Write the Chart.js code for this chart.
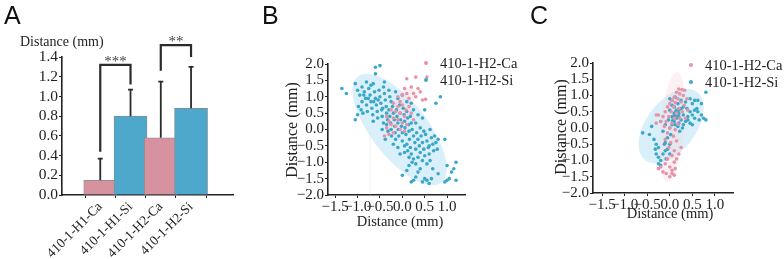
<!DOCTYPE html>
<html>
<head>
<meta charset="utf-8">
<script src="https://cdn.jsdelivr.net/npm/chart.js@4"></script>
<style>
  body { margin: 0; background: #fff; width: 784px; height: 259px; position: relative; overflow: hidden; }
  .panel { position: absolute; top: 0; height: 259px; }
  .letter { position: absolute; top: 1px; font: 25px "Liberation Sans", sans-serif; color: #111; }
</style>
</head>
<body>
<div class="panel" style="left:0;width:250px"><canvas id="chartA"></canvas></div>
<div class="panel" style="left:260px;width:270px"><canvas id="chartB"></canvas></div>
<div class="panel" style="left:530px;width:254px"><canvas id="chartC"></canvas></div>
<div class="letter" style="left:4px">A</div>
<div class="letter" style="left:262px">B</div>
<div class="letter" style="left:530px">C</div>
<script>
// ---- panel A data ----
const catLabels = ["410-1-H1-Ca", "410-1-H1-Si", "410-1-H2-Ca", "410-1-H2-Si"];
const meanDist = [0.15, 0.80, 0.58, 0.88];
const sdDist = [0.22, 0.27, 0.57, 0.42];
const sigPairs = [[0, 1], [2, 3]];
const sigMarks = ["***", "**"];
const sigTop = [1.32, 1.52];
const sigLegs = [[0.44, 1.12], [1.26, 1.40]];

// ---- panel B data (x, y in mm) ----
const seriesNames = ["410-1-H2-Ca", "410-1-H2-Si"];
const bCa = [[0.1,1.55],[0.3,1.6],[0.55,1.6],[0.05,1.25],[0.2,1.3],[0.35,1.25],[0.45,0.9],[0.52,0.92],[0.3,1.0],[0.0,1.05],
  [-0.05,0.85],[0.15,0.95],[-0.1,0.7],[0.0,0.75],[0.08,0.6],[-0.15,0.55],[-0.05,0.5],[0.05,0.4],[-0.2,0.35],[-0.1,0.3],
  [0.0,0.2],[-0.25,0.15],[-0.15,0.1],[-0.05,0.0],[-0.3,0.25],[-0.35,0.05],[-0.2,-0.1],[-0.3,-0.15],[-0.4,-0.2],[0.1,0.15],
  [0.2,0.5],[0.15,0.7],[0.25,0.3],[-0.25,0.6],[-0.2,0.8],[-0.35,0.4],[0.05,-0.05],[0.25,1.1],[0.4,1.15],[-0.1,1.0],[0.1,1.1]];
const bSi = [[-1.35,1.25],[-1.25,1.1],[-0.6,1.9],[-0.5,1.95],[-0.6,1.7],[-1.05,1.4],[-0.8,1.45],[-0.65,1.4],[-0.4,1.45],[-1.05,0.3],[-1.0,0.45],
  [-1.0,1.2],[-0.95,1.05],[-0.9,0.85],[-0.98,0.7],[-0.92,0.6],[-0.85,1.15],[-0.82,0.95],[-0.8,0.75],[-0.78,0.55],[-0.75,1.25],
  [-0.72,1.05],[-0.7,0.85],[-0.68,0.65],[-0.66,0.45],[-0.62,1.15],[-0.6,0.95],[-0.58,0.75],[-0.56,0.55],[-0.55,0.35],[-0.52,1.2],
  [-0.5,1.0],[-0.48,0.8],[-0.46,0.6],[-0.45,0.4],[-0.42,1.3],[-0.4,1.1],[-0.38,0.9],[-0.36,0.7],[-0.35,0.5],[-0.33,0.3],
  [-0.9,1.3],[-0.88,0.5],[-0.7,1.35],[-0.65,0.25],[-0.3,1.2],[-0.28,1.0],[-0.25,0.85],[-0.86,1.05],[-0.76,0.95],[-0.64,0.85],
  [-0.54,0.9],[-0.44,0.65],[-0.35,0.15],[-0.32,-0.05],[-0.3,0.6],[-0.28,0.4],[-0.26,0.2],[-0.25,0.0],[-0.24,-0.2],[-0.22,0.7],
  [-0.2,0.5],[-0.18,0.3],[-0.17,0.1],[-0.16,-0.1],[-0.15,-0.3],[-0.13,0.6],[-0.12,0.4],[-0.1,0.2],[-0.09,0.0],[-0.08,-0.2],
  [-0.06,0.75],[-0.05,0.5],[-0.04,0.3],[-0.02,0.1],[0.0,-0.1],[0.0,-0.35],[0.02,0.65],[0.04,0.45],[0.05,0.25],[0.06,0.05],
  [0.08,-0.15],[0.1,0.55],[0.12,0.35],[0.14,0.15],[0.15,-0.05],[0.16,-0.3],[0.18,0.4],[0.2,0.2],[0.22,0.0],[-0.38,-0.3],
  [-0.45,0.0],[-0.42,0.2],[-0.2,-0.45],[-0.1,-0.55],[0.05,-0.5],[0.25,-0.2],[0.28,-0.4],[0.3,-0.6],[0.32,-0.1],[0.35,-0.3],
  [0.38,-0.5],[0.4,-0.7],[0.42,-0.2],[0.45,-0.4],[0.48,-0.6],[0.5,-0.8],[0.52,-0.15],[0.55,-0.35],[0.58,-0.55],[0.6,-0.75],
  [0.62,-0.95],[0.65,-0.25],[0.68,-0.45],[0.7,-0.65],[0.72,-0.2],[0.1,-0.45],[0.12,-0.65],[0.15,-0.85],[0.18,-0.55],[0.2,-0.75],
  [0.22,-1.0],[0.25,-0.9],[0.3,-1.05],[0.05,-0.7],[-0.05,-0.75],[0.35,-0.85],[0.45,-0.95],[0.55,-1.05],[0.75,-0.4],[0.78,-0.6],
  [0.6,-0.5],[0.4,0.05],[0.3,0.2],[0.48,-0.05],[0.62,0.0],[0.8,-0.3],[0.95,-0.3],[0.85,1.0],[0.75,0.8],[0.45,0.35],
  [0.5,0.6],[0.35,0.45],[0.25,0.6],[-0.1,0.95],[0.0,1.05],[-0.15,1.15],[0.1,0.85],[0.2,0.8],
  [0.0,-1.4],[0.1,-1.25],[0.2,-1.6],[0.25,-1.55],[0.3,-1.45],[0.35,-1.3],[0.45,-1.6],[0.5,-1.5],[0.55,-1.55],[0.6,-1.65],
  [0.65,-1.5],[0.4,-1.2],[0.15,-1.1],[0.68,-1.2],[0.8,-1.35],[1.0,-1.1],[1.05,-1.5],[1.1,-1.3],[1.15,-1.2],[1.2,-1.0],
  [1.2,-1.55],[1.0,-1.55],[0.95,-1.6]];

// ---- panel C data ----
const cCa = [[0.2,1.2],[0.27,1.18],[0.33,1.16],[0.15,1.1],[0.22,1.05],[0.1,0.95],[0.3,1.0],[0.05,0.85],[0.18,0.9],[0.38,0.9],
  [0.0,0.75],[0.12,0.78],[0.25,0.8],[-0.05,0.65],[0.08,0.65],[0.2,0.6],[0.32,0.7],[-0.1,0.5],[0.03,0.5],[0.15,0.45],
  [0.28,0.5],[-0.15,0.35],[-0.02,0.35],[0.1,0.3],[0.22,0.3],[-0.2,0.2],[-0.08,0.2],[0.05,0.15],[0.18,0.12],[-0.25,0.4],
  [-0.3,0.15],[-0.12,0.05],[0.0,0.0],[0.12,-0.05],[-0.05,-0.15],[0.08,-0.25],[-0.1,-0.35],[0.02,-0.45],[0.15,-0.4],[-0.02,-0.6],
  [0.1,-0.7],[0.05,-0.85],[-0.05,-0.95],[0.15,-0.95],[0.1,-1.05],[-0.1,-1.1],[-0.2,-1.2],[-0.25,-1.25],[-0.15,-1.35],[0.0,-1.2],
  [0.05,-1.3],[0.12,-1.25],[0.1,-1.45],[0.0,-1.5],[0.05,-1.4],[-0.08,-1.4],[0.2,-0.8],[0.25,-0.6],[-0.3,0.4],[0.4,0.55],[0.35,0.3]];
const cSi = [[-0.6,-0.15],[-0.45,-0.2],[-0.4,0.05],[-0.35,-0.35],[-0.3,-0.5],[-0.32,-0.65],[-0.25,-0.6],[-0.3,-0.8],[-0.25,-0.9],[-0.2,-1.0],
  [-0.25,-1.1],[-0.2,-1.15],[-0.15,-0.8],[-0.1,-0.7],[-0.12,-0.5],[-0.1,-0.45],[-0.05,-0.3],[0.0,-0.5],[0.02,-0.2],[-0.15,-0.1],
  [-0.2,0.2],[-0.1,0.1],[0.0,0.0],[-0.05,-0.65],[0.0,-0.8],[-0.08,-0.95],[0.05,0.1],[0.1,0.2],[0.15,0.3],[0.2,0.15],
  [0.25,0.25],[0.3,0.4],[0.05,0.35],[0.1,0.45],[0.15,0.55],[0.2,0.45],[0.25,0.6],[0.0,0.55],[0.05,0.7],[0.1,0.65],
  [0.18,0.75],[0.0,0.9],[0.05,0.85],[0.12,0.95],[0.08,0.3],[0.12,0.1],[0.18,0.05],[0.22,-0.1],[0.3,0.1],[0.35,0.2],
  [0.4,0.35],[0.45,0.5],[0.5,0.4],[0.55,0.3],[0.6,0.6],[0.62,0.5],[0.7,0.4],[0.75,0.3],[0.8,0.25],[0.8,1.1],
  [0.7,0.75],[0.62,0.85],[0.5,0.75],[0.5,0.1],[0.4,0.25],[0.3,0.65],[0.35,0.8],[0.45,0.9],[0.55,0.55],[0.28,0.0],
  [0.45,0.15],[0.38,0.6],[0.25,0.85],[0.2,0.35],[0.15,0.4],[0.1,0.38],[-0.03,0.25],[0.06,0.22],[0.13,0.5],[0.2,0.55],
  [0.55,0.85],[0.65,0.25]];

// confidence ellipses: centre, major half-axis vector, minor half-axis vector (data units)
const ellB = [
  { c: [-0.06, 0.0], u: [0.93, -1.62], v: [0.49, 0.53], s: 1 },
  { c: [-0.05, 0.55], u: [0.25, 0.75], v: [0.22, -0.08], s: 0 }
];
const ellC = [
  { c: [0.03, 0.06], u: [0.57, 1.05], v: [0.44, -0.46], s: 1 },
  { c: [0.056, 0.03], u: [0.11, 1.69], v: [0.26, -0.03], s: 0 }
];

const PINK = "#d6929f", BLUE = "#4da8cc";
const DOT_PINK = "#e693a9", DOT_BLUE = "#3aa8c8";
const ELL_FILL = ["rgba(248,208,218,0.32)", "rgba(192,228,246,0.6)"];
const SERIF = '"Liberation Serif", "Times New Roman", serif';
const INK = "#222";

Chart.defaults.font.family = SERIF;
Chart.defaults.color = INK;

function fmt(v) {
  if (Math.abs(v) < 1e-9) v = 0;
  return (v < 0 ? "\u2212" : "") + Math.abs(v).toFixed(1);
}

// ---------- A: bar chart ----------
const barDeco = {
  id: "barDeco",
  afterDatasetsDraw(chart) {
    const { ctx, scales: { x, y } } = chart;
    ctx.save();
    ctx.strokeStyle = "#2b2b2b";
    ctx.lineWidth = 1.8;
    meanDist.forEach((m, i) => {
      const px = x.getPixelForValue(i + 1);
      const top = y.getPixelForValue(m + sdDist[i]);
      ctx.beginPath();
      ctx.moveTo(px, y.getPixelForValue(m));
      ctx.lineTo(px, top);
      ctx.moveTo(px - 2.5, top);
      ctx.lineTo(px + 2.5, top);
      ctx.stroke();
    });
    ctx.lineWidth = 2.2;
    ctx.fillStyle = "#444";
    ctx.font = "15px " + SERIF;
    ctx.textAlign = "center";
    sigPairs.forEach((p, k) => {
      const x1 = x.getPixelForValue(p[0] + 1), x2 = x.getPixelForValue(p[1] + 1);
      const yt = y.getPixelForValue(sigTop[k]);
      ctx.beginPath();
      ctx.moveTo(x1, y.getPixelForValue(sigLegs[k][0]));
      ctx.lineTo(x1, yt);
      ctx.lineTo(x2, yt);
      ctx.lineTo(x2, y.getPixelForValue(sigLegs[k][1]));
      ctx.stroke();
      ctx.fillText(sigMarks[k], (x1 + x2) / 2, yt + 1);
    });
    ctx.fillStyle = INK;
    ctx.textAlign = "left";
    ctx.font = "14px " + SERIF;
    ctx.fillText("Distance (mm)", 20, 46);
    ctx.restore();
  }
};

new Chart(document.getElementById("chartA"), {
  type: "bar",
  data: {
    datasets: [{
      data: meanDist.map((v, i) => ({ x: i + 1, y: v })),
      backgroundColor: [PINK, BLUE, PINK, BLUE],
      borderColor: "#8a8a8a",
      borderWidth: 0.8,
      barThickness: 33
    }]
  },
  options: {
    responsive: true,
    maintainAspectRatio: false,
    animation: false,
    layout: { padding: { top: 57, right: 17, left: 0, bottom: 0 } },
    plugins: { legend: { display: false }, tooltip: { enabled: false } },
    scales: {
      x: {
        type: "linear",
        min: 0.442, max: 4.68,
        grid: { drawOnChartArea: false, tickLength: 3, color: INK },
        border: { color: INK, width: 1.6 },
        ticks: {
          stepSize: 1, includeBounds: false, autoSkip: false,
          minRotation: 45, maxRotation: 45, padding: 1,
          font: { size: 13.5 },
          callback: v => catLabels[v - 1] || ""
        },
        afterFit(s) { s.height = 64; s.paddingLeft = 0; s.paddingRight = 0; }
      },
      y: {
        min: 0, max: 1.4,
        grid: { drawOnChartArea: false, tickLength: 3, color: INK },
        border: { color: INK, width: 1.6 },
        ticks: { stepSize: 0.2, autoSkip: false, padding: 1, font: { size: 15.5 }, callback: v => fmt(v) },
        afterFit(s) { s.width = 62; s.paddingTop = 0; s.paddingBottom = 0; }
      }
    }
  },
  plugins: [barDeco]
});

// ---------- B, C: scatter charts ----------
const scatterDeco = {
  id: "scatterDeco",
  beforeDatasetsDraw(chart, args, opts) {
    const { ctx, scales: { x, y } } = chart;
    ctx.save();
    opts.ellipses.forEach(e => {
      ctx.beginPath();
      for (let k = 0; k <= 90; k++) {
        const t = k / 90 * Math.PI * 2;
        const dx = e.c[0] + Math.cos(t) * e.u[0] + Math.sin(t) * e.v[0];
        const dy = e.c[1] + Math.cos(t) * e.u[1] + Math.sin(t) * e.v[1];
        const px = x.getPixelForValue(dx), py = y.getPixelForValue(dy);
        if (k === 0) ctx.moveTo(px, py); else ctx.lineTo(px, py);
      }
      ctx.closePath();
      ctx.fillStyle = ELL_FILL[e.s];
      ctx.fill();
    });
    if (opts.guide) {
      ctx.strokeStyle = "rgba(215,215,215,0.5)";
      ctx.lineWidth = 0.8;
      ctx.beginPath();
      ctx.moveTo(x.getPixelForValue(opts.guide[0]), y.getPixelForValue(opts.guide[1]));
      ctx.lineTo(x.getPixelForValue(opts.guide[0]), y.getPixelForValue(-2));
      ctx.stroke();
    }
    ctx.restore();
  },
  afterDraw(chart, args, opts) {
    const { ctx } = chart;
    ctx.save();
    ctx.fillStyle = INK;
    ctx.textAlign = "center";
    ctx.textBaseline = "middle";
    ctx.font = "14.5px " + SERIF;
    ctx.fillText("Distance (mm)", opts.xTitle[0], opts.xTitle[1]);
    ctx.save();
    ctx.translate(opts.yTitle[0], opts.yTitle[1]);
    ctx.rotate(-Math.PI / 2);
    ctx.font = "16px " + SERIF;
    ctx.fillText("Distance (mm)", 0, 0);
    ctx.restore();
    ctx.textAlign = "left";
    ctx.font = "14.5px " + SERIF;
    [DOT_PINK, DOT_BLUE].forEach((c, i) => {
      const ly = opts.legend[1] + i * 17;
      ctx.fillStyle = c;
      ctx.beginPath();
      ctx.arc(opts.legend[0], ly, 2, 0, Math.PI * 2);
      ctx.fill();
      ctx.fillStyle = INK;
      ctx.fillText(seriesNames[i], opts.legend[0] + 14, ly + 1);
    });
    ctx.restore();
  }
};

function scatterChart(id, ca, si, ell, layout) {
  return new Chart(document.getElementById(id), {
    type: "scatter",
    data: {
      datasets: [
        { label: seriesNames[0], data: ca.map(p => ({ x: p[0], y: p[1] })), backgroundColor: DOT_PINK, borderWidth: 0, pointRadius: 1.8 },
        { label: seriesNames[1], data: si.map(p => ({ x: p[0], y: p[1] })), backgroundColor: DOT_BLUE, borderWidth: 0, pointRadius: 1.8 }
      ]
    },
    options: {
      responsive: true,
      maintainAspectRatio: false,
      animation: false,
      layout: { padding: { top: layout.top, right: layout.right, left: 0, bottom: 0 } },
      plugins: {
        legend: { display: false },
        tooltip: { enabled: false },
        scatterDeco: { ellipses: ell, guide: layout.guide, xTitle: layout.xTitle, yTitle: layout.yTitle, legend: layout.legend }
      },
      scales: {
        x: {
          type: "linear", min: layout.xmin, max: 1.4,
          grid: { drawOnChartArea: false, tickLength: 3, color: INK },
          border: { color: INK, width: 1.6 },
          ticks: { stepSize: 0.5, includeBounds: false, autoSkip: false, maxRotation: 0, padding: 0, font: { size: 15 }, callback: v => fmt(v) },
          afterFit(s) { s.height = layout.xh; s.paddingLeft = 0; s.paddingRight = 0; }
        },
        y: {
          min: -2, max: 2,
          grid: { drawOnChartArea: false, tickLength: 3, color: INK },
          border: { color: INK, width: 1.6 },
          ticks: { stepSize: 0.5, autoSkip: false, padding: 1, font: { size: 15 }, callback: v => fmt(v) },
          afterFit(s) { s.width = layout.yw; s.paddingTop = 0; s.paddingBottom = 0; }
        }
      }
    },
    plugins: [scatterDeco]
  });
}

scatterChart("chartB", bCa, bSi, ellB, {
  top: 64, right: 65, xh: 64, yw: 68, xmin: -1.66, guide: [-0.72, -0.1],
  xTitle: [140, 222], yTitle: [33, 130], legend: [166, 63]
});
scatterChart("chartC", cCa, cSi, ellC, {
  top: 63, right: 51, xh: 66, yw: 63, xmin: -1.7, guide: null,
  xTitle: [140, 214], yTitle: [32, 127], legend: [161, 65]
});
</script>
</body>
</html>
